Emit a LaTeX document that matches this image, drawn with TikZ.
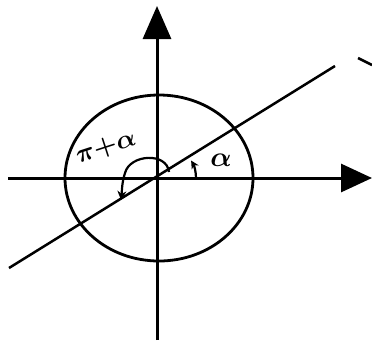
\documentclass[tikz,border=0pt]{standalone}
\usepackage{amsmath,amssymb,bm}
\usepackage{tikz}
\usetikzlibrary{arrows.meta}

\begin{document}
\begin{tikzpicture}[x=1pt, y=-1pt, line width=3pt,
  every node/.style={scale=2.8, inner sep=0pt}]
  \useasboundingbox (0,0) rectangle (372,341);

  % Origin
  \coordinate (O) at (157,178);
  \coordinate (xend) at (372,178);
  \coordinate (yend) at (157,6);

  % Axes with big triangle tips
  \draw[-{Triangle[length=31pt,width=28pt]}] (8,178) -- (xend);
  \draw[-{Triangle[length=33pt,width=28pt]}] (157,340) -- (yend);

  % Ellipse
  \draw[line width=2.8pt] (159,178) ellipse [x radius=94, y radius=83];

  % Line through the origin
  \coordinate (lstart) at (9,268);
  \coordinate (lend) at (335,66);
  \draw[line width=2.5pt] (lstart) -- (lend);
  \draw[line width=2.5pt] (358,58) -- (372,65);

  % Angle alpha
  \draw[line width=2.2pt, -{Stealth[length=8pt,width=8pt]}] (196,178) arc [start angle=0, end angle=-29, x radius=39, y radius=36];
  \node (alpha) at (221,160) {$\bm{\alpha}$};

  % Angle pi + alpha
  \draw[line width=2.2pt, -{Stealth[length=9pt,width=9pt]}] (169,172) .. controls (167,152) and (130,154) .. (125,173) .. controls (122,182) and (122,190) .. (121,200);
  \node[scale=0.93, rotate=18] (pialpha) at (106,148) {$\bm{\pi{+}\alpha}$};
\end{tikzpicture}
\end{document}
